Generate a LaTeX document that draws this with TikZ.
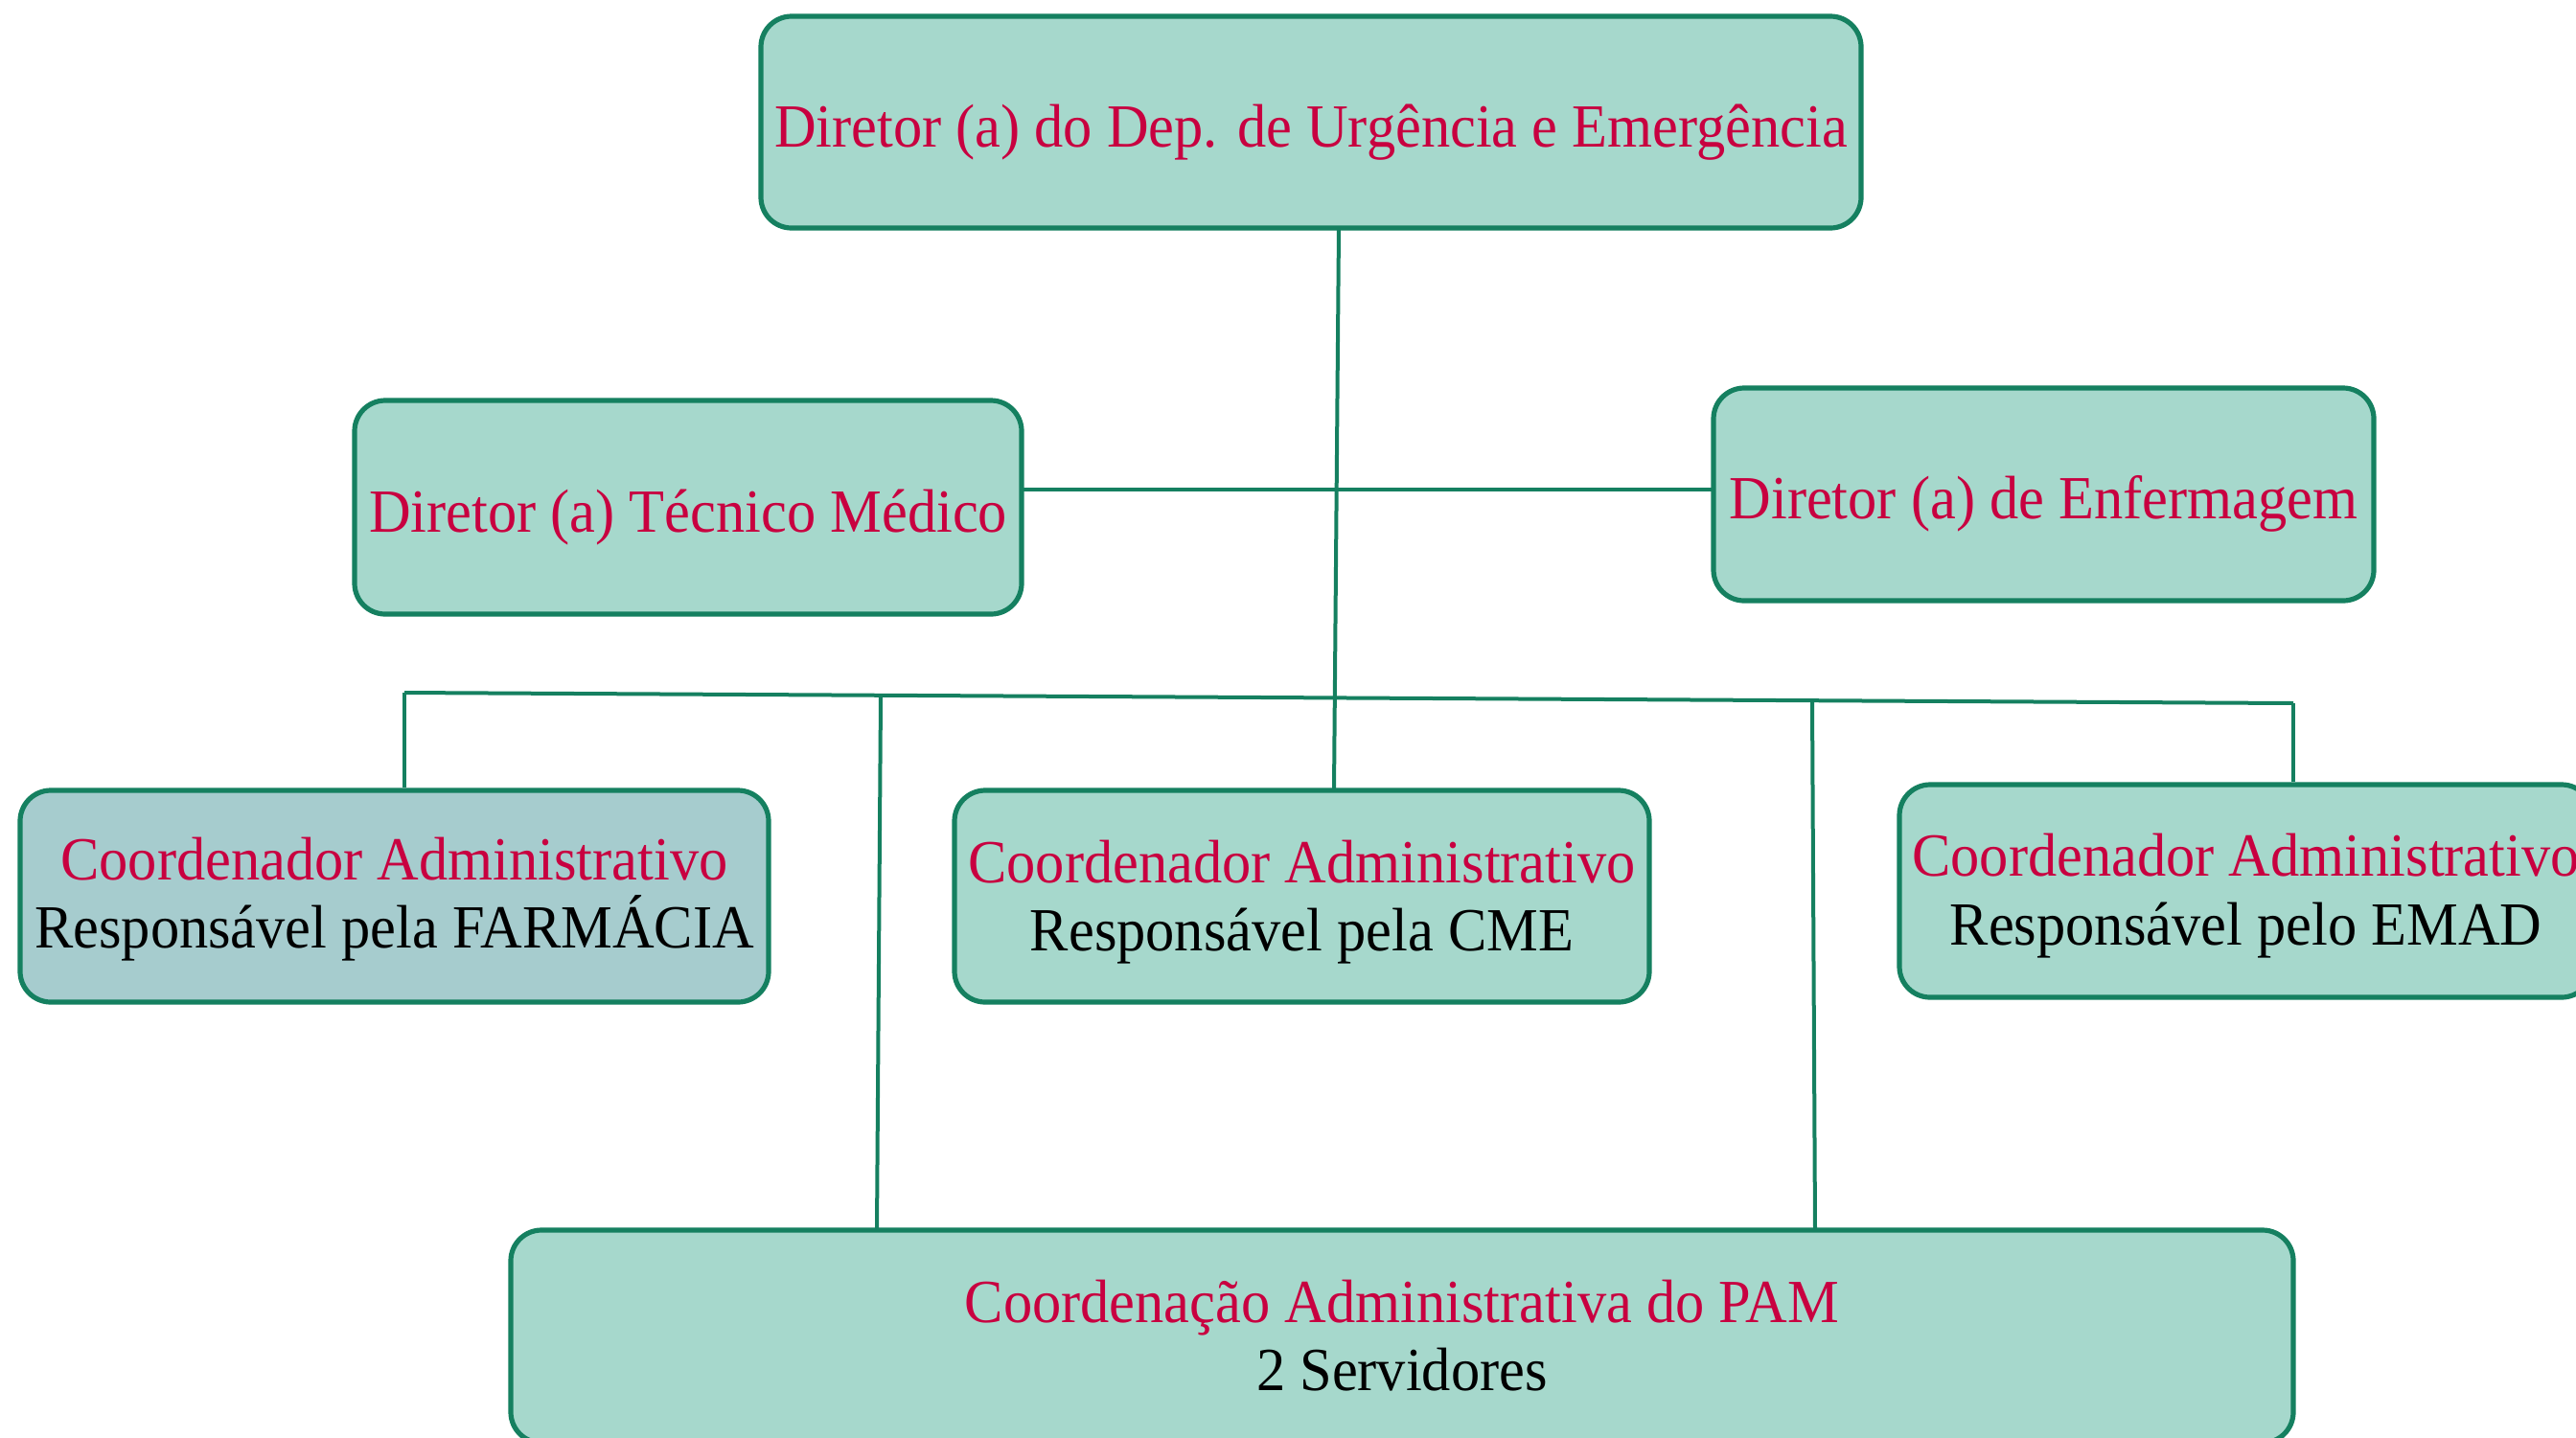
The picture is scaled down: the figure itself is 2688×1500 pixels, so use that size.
\documentclass[tikz,border=0pt]{standalone}
\usepackage{fontspec}
\setmainfont{Liberation Serif}[FakeStretch=0.944]
\definecolor{boxfill}{RGB}{166,216,204}
\definecolor{boxfilltwo}{RGB}{166,204,206}
\definecolor{edgecol}{RGB}{21,128,96}
\definecolor{redtxt}{RGB}{200,0,64}
\begin{document}
\begin{tikzpicture}[x=0.25pt,y=-0.25pt,
  box/.style={draw=edgecol, line width=1.3pt, fill=boxfill, rounded corners=8pt,
    inner sep=0pt, align=center, font=\fontsize{16}{17.8}\selectfont, text=redtxt},
  oneline/.style={text height=15.6pt, text depth=2.8pt},
  twoline/.style={text height=#1, text depth=3.5pt},
  conn/.style={draw=edgecol, line width=1pt}]
\useasboundingbox (0,0) rectangle (2688,1500);
\fill[white] (0,0) rectangle (2688,1500);
\node[box, oneline, minimum width=287pt, minimum height=55.25pt] (top) at (1368,127.5)
  {Diretor (a) do Dep. de Urgência e Emergência};
\node[box, oneline, minimum width=174pt, minimum height=55.75pt] (tec) at (718,529.5)
  {Diretor (a) Técnico Médico};
\node[box, oneline, minimum width=172.25pt, minimum height=55.5pt] (enf) at (2132.5,516)
  {Diretor (a) de Enfermagem};
\node[box, twoline=30.4pt, fill=boxfilltwo, minimum width=195.25pt, minimum height=55.25pt] (farm) at (411.5,935.5)
  {Coordenador Administrativo\\\textcolor{black}{Responsável pela FARMÁCIA}};
\node[box, twoline=32.1pt, minimum width=181.25pt, minimum height=55.25pt] (cme) at (1358.5,935.5)
  {Coordenador Administrativo\\\textcolor{black}{Responsável pela CME}};
\node[box, twoline=31.5pt, minimum width=180.75pt, minimum height=55.5pt] (emad) at (2343.5,930)
  {Coordenador Administrativo\\\textcolor{black}{Responsável pelo EMAD}};
\node[box, twoline=31.9pt, minimum width=465pt, minimum height=55.5pt] (pam) at (1463,1395)
  {Coordenação Administrativa do PAM\\\textcolor{black}{2 Servidores}};
% connectors
\coordinate (a1) at (1397,238);
\coordinate (a2) at (1392,825);
\draw[conn] (a1) -- (a2);
\coordinate (h1) at (1066,511);
\coordinate (h2) at (1788,511);
\draw[conn] (h1) -- (h2);
\coordinate (bL) at (422,723);
\coordinate (bR) at (2393,734);
\draw[conn] (bL) -- (bR);
\draw[conn] (bL) -- (bL |- farm.north);
\draw[conn] (bR) -- (bR |- emad.north);
\coordinate (p1) at (919,725.8);
\coordinate (p1b) at (915,1284);
\draw[conn] (p1) -- (p1b);
\coordinate (p2) at (1891,731.2);
\coordinate (p2b) at (1894,1284);
\draw[conn] (p2) -- (p2b);
\end{tikzpicture}
\end{document}
